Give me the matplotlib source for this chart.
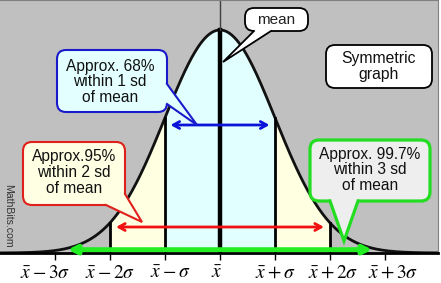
import numpy as np
import matplotlib
matplotlib.use("Agg")
import matplotlib.pyplot as plt
from matplotlib.patches import FancyBboxPatch, Polygon
from matplotlib.transforms import ScaledTranslation

plt.rcParams['mathtext.fontset'] = 'stix'

# ---- data ----
mu, sd = 0.0, 1.0
sigma_steps = [-3, -2, -1, 0, 1, 2, 3]
tick_labels = [r'$\bar{x}-3\sigma$', r'$\bar{x}-2\sigma$', r'$\bar{x}-\sigma$',
               r'$\bar{x}$', r'$\bar{x}+\sigma$', r'$\bar{x}+2\sigma$',
               r'$\bar{x}+3\sigma$']
# small horizontal nudges of the tick labels (pixels), as in the original
label_nudge = [-10, 0, 5, -3, 0, 3, 8]
band_inner = 1   # 68% band
band_outer = 2   # 95% band
# arrows: (half width in sd, height as pdf value)
arrow_68 = (0.95, 0.229)
arrow_95 = (1.94, 0.0465)
arrow_997 = (2.82, 0.006)

BG = '#c0c0c0'
CYAN = '#e2ffff'
YELLOW = '#ffffe2'


def pdf(x):
    return np.exp(-0.5 * ((x - mu) / sd) ** 2) / (sd * np.sqrt(2 * np.pi))


fig = plt.figure(figsize=(4.41, 2.83), dpi=100, facecolor='white')
ax = fig.add_axes([0, 30 / 283, 438 / 441, 253 / 283], facecolor=BG)
ax.set_xlim(-4.0, 3.964)
ax.set_ylim(0, 0.4526)

xs = np.linspace(-4.2, 4.2, 600)
ys = pdf(xs)

# coloured bands under the curve
m1 = (xs >= -band_inner) & (xs <= band_inner)
m2 = (xs >= -band_outer) & (xs <= band_outer)
ax.fill_between(xs, 0, ys, where=m2, color=YELLOW, lw=0)
ax.fill_between(xs, 0, ys, where=m1, color=CYAN, lw=0)
ax.plot(xs, ys, color='#111111', lw=2)

# sigma lines
for k in [-2, -1, 1, 2]:
    ax.plot([k, k], [0, pdf(k)], color='black', lw=2)
ax.plot([mu, mu], [0, pdf(mu)], color='black', lw=3.2)
ax.plot([mu, mu], [pdf(mu), 0.4526], color='#404040', lw=1)

# arrows
ax.annotate('', xy=(-arrow_68[0], arrow_68[1]), xytext=(arrow_68[0], arrow_68[1]),
            arrowprops=dict(arrowstyle='<->,head_length=0.45,head_width=0.25',
                            color='#0a14d8', lw=2))
ax.annotate('', xy=(-arrow_95[0], arrow_95[1]), xytext=(arrow_95[0], arrow_95[1]),
            arrowprops=dict(arrowstyle='<->,head_length=0.45,head_width=0.25',
                            color='#f01010', lw=2))
ax.annotate('', xy=(-arrow_997[0], arrow_997[1]), xytext=(arrow_997[0], arrow_997[1]),
            arrowprops=dict(arrowstyle='<|-|>,head_length=0.5,head_width=0.25',
                            color='#22ee22', lw=3.5))

# axis styling
ax.set_xticks(sigma_steps)
ax.set_xticklabels(tick_labels, fontsize=14)
ax.set_yticks([])
ax.tick_params(axis='x', direction='out', length=5, width=1, pad=2, colors='black')
for lab, dx in zip(ax.get_xticklabels(), label_nudge):
    lab.set_transform(lab.get_transform() + ScaledTranslation(dx / 100, 0, fig.dpi_scale_trans))
ax.spines['left'].set_visible(False)
ax.spines['bottom'].set_linewidth(2)
ax.spines['top'].set_color('#808080')
ax.spines['right'].set_color('#808080')

# ---- callouts, in pixel space ----
ov = fig.add_axes([0, 0, 1, 1])
ov.set_xlim(0, 441)
ov.set_ylim(283, 0)
ov.axis('off')
ov.patch.set_alpha(0)


def bubble(x0, y0, x1, y1, fc, ec, lw, tail=None):
    box = FancyBboxPatch((x0, y0), x1 - x0, y1 - y0,
                         boxstyle='round,pad=0,rounding_size=9',
                         fc=fc, ec=ec, lw=lw, zorder=2)
    ov.add_patch(box)
    if tail:
        b1, tip, b2, i2, i1 = tail
        ov.add_patch(Polygon([b1, tip, b2, i2, i1], closed=True, fc=fc,
                             ec='none', zorder=3))
        ov.plot([b1[0], tip[0], b2[0]], [b1[1], tip[1], b2[1]], color=ec,
                lw=lw, zorder=4, solid_joinstyle='miter')


font = 'Liberation Sans'

bubble(245, 8, 308, 31, 'white', 'black', 1.3,
       tail=[(254, 31), (223, 62), (271, 31), (271, 27), (254, 27)])
ov.text(276, 19.5, 'mean', ha='center', va='center', fontsize=11,
        family=font, color='#222222', zorder=5)

bubble(326, 45, 432, 88, 'white', 'black', 1.3)
ov.text(379, 66.5, 'Symmetric\ngraph', ha='center', va='center', fontsize=11.3,
        family=font, linespacing=1.05, color='#111111', zorder=5)

bubble(57, 50, 167, 112, '#e4ffff', '#1a1acc', 1.5,
       tail=[(167, 84), (197, 125), (167, 104), (162, 104), (162, 84)])
ov.text(110, 82, 'Approx. 68%\nwithin 1 sd\nof mean', ha='center', va='center',
        fontsize=11.2, family=font, linespacing=1.05, color='#111111', zorder=5)

bubble(23, 142, 125, 205, '#ffffe4', '#e0201a', 1.5,
       tail=[(106, 205), (142, 222), (125, 194), (120, 194), (106, 200)])
ov.text(74, 172.5, 'Approx.95%\nwithin 2 sd\nof mean', ha='center', va='center',
        fontsize=11.2, family=font, linespacing=1.05, color='#111111', zorder=5)

bubble(310, 140, 430, 201, '#eeeeee', '#22dd22', 2.3,
       tail=[(330, 201), (344, 241), (358, 201), (358, 196), (330, 196)])
ov.text(370, 170, 'Approx. 99.7%\nwithin 3 sd\nof mean', ha='center', va='center',
        fontsize=11.2, family=font, linespacing=1.05, color='#111111', zorder=5)

ov.text(8, 216, 'MathBits.com', rotation=270, ha='center', va='center',
        fontsize=7.6, family=font, color='#333333', zorder=5)

fig.savefig('out.png', dpi=100, facecolor='white')
